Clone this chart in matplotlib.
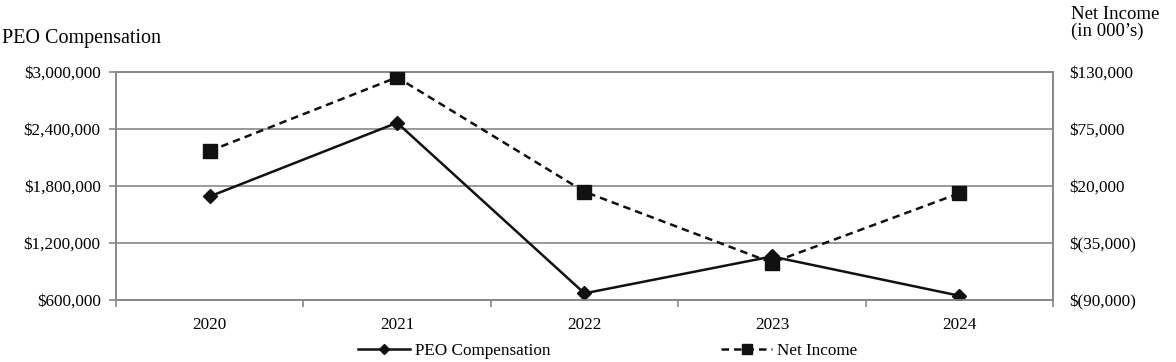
import matplotlib.pyplot as plt
import matplotlib.ticker as mticker

plt.rcParams['font.family'] = ['Liberation Serif', 'DejaVu Serif']

years = ['2020', '2021', '2022', '2023', '2024']
peo_comp = [1690000, 2466000, 670000, 1058000, 645000]
net_income = [53800, 124900, 14500, -54000, 13000]

fig = plt.figure(figsize=(11.76, 3.62), dpi=100)
ax = fig.add_axes([0.0986, 0.1713, 0.7968, 0.6297])
ax2 = ax.twinx()

x = list(range(len(years)))
gray = '#888888'
ink = '#111111'

l1, = ax.plot(x, peo_comp, color=ink, lw=1.8, marker='D', markersize=7,
              label='PEO Compensation', zorder=3)
l2, = ax2.plot(x, net_income, color=ink, lw=1.8, ls=(0, (3, 2)), marker='s',
               markersize=10, label='Net Income', zorder=3)

ax.set_xlim(-0.5, len(years) - 0.5)
ax.set_ylim(600000, 3000000)
ax.set_yticks([600000, 1200000, 1800000, 2400000, 3000000])
ax.yaxis.set_major_formatter(mticker.FuncFormatter(lambda v, p: '${:,.0f}'.format(v)))
ax.grid(axis='y', color=gray, lw=1.2)
ax.set_axisbelow(True)

ax2.set_ylim(-90000, 130000)
ax2.set_yticks([-90000, -35000, 20000, 75000, 130000])
def fmt_right(v, p):
    if v < 0:
        return '$({:,.0f})'.format(-v)
    return '${:,.0f}'.format(v)
ax2.yaxis.set_major_formatter(mticker.FuncFormatter(fmt_right))

ax.set_xticks(x)
ax.set_xticklabels(years)
ax.set_xticks([i + 0.5 for i in range(-1, len(years))], minor=True)
ax.tick_params(axis='x', which='major', length=0, pad=12, labelsize=12.3)
ax.tick_params(axis='x', which='minor', length=5, color=gray, width=1.2)
ax.tick_params(axis='y', length=5, color=gray, width=1.2, labelsize=12.3, pad=6)
ax2.tick_params(axis='y', length=0, labelsize=12.3, pad=12)

for a in (ax, ax2):
    for s in a.spines.values():
        s.set_color(gray)
        s.set_linewidth(1.2)

fig.text(0.002, 0.895, 'PEO Compensation', fontsize=14.5, va='center', ha='left')
fig.text(0.911, 0.937, 'Net Income\n(in 000\u2019s)', fontsize=13.5, va='center',
         ha='left', linespacing=1.0)

fig.legend(handles=[l1, l2], loc='center', bbox_to_anchor=(0.517, 0.03), ncol=2,
           frameon=False, fontsize=12.3, handlelength=3, columnspacing=10,
           handletextpad=0.3, markerscale=0.7)

fig.savefig('out.png', dpi=100)
